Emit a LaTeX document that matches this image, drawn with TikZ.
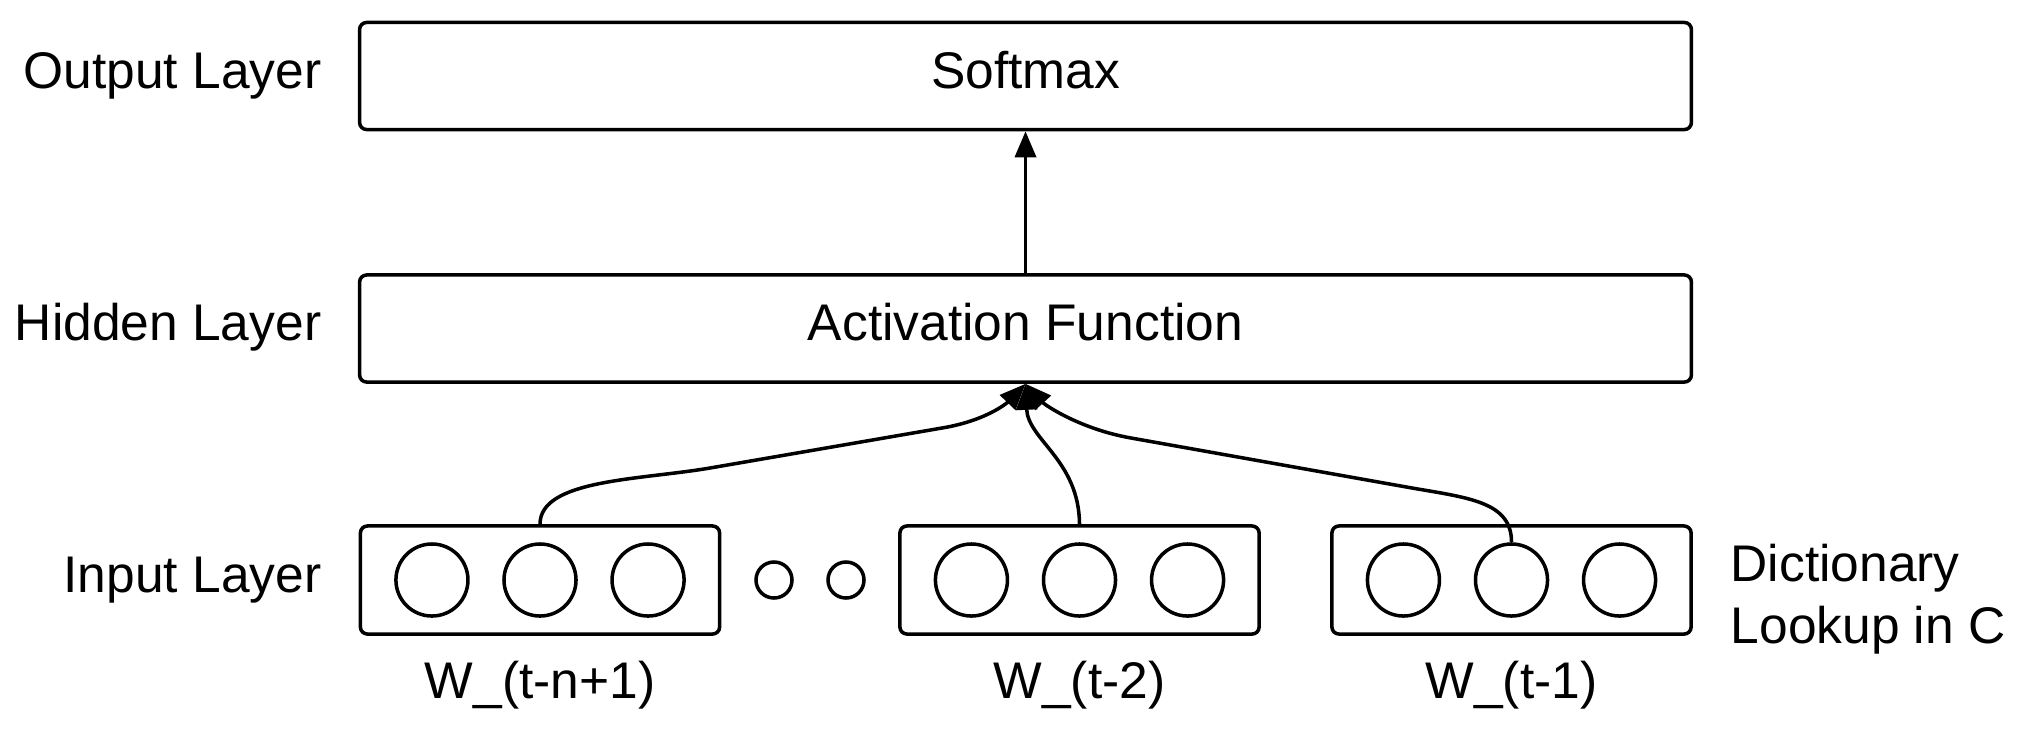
\documentclass[tikz,border=0pt]{standalone}
\usepackage{fontspec}
\setmainfont{Liberation Sans}
\usetikzlibrary{arrows.meta}

\begin{document}
\fontsize{14.65pt}{17.4pt}\selectfont
\begin{tikzpicture}[x=0.01cm, y=-0.01cm,
    layer/.style={rectangle, draw, line width=1pt, rounded corners=2pt, minimum width=13.31cm, minimum height=1.07cm, text height=0.37cm, text depth=0.13cm},
    lookup/.style={rectangle, draw, line width=1pt, rounded corners=2pt, minimum width=3.59cm, minimum height=1.08cm},
    unit/.style={circle, draw, line width=1pt, minimum size=0.72cm, inner sep=0pt},
    dot/.style={circle, draw, line width=1pt, minimum size=0.36cm, inner sep=0pt},
    tag/.style={inner sep=0pt},
    arrow/.style={-{Triangle[length=0.26cm, width=0.21cm]}, line width=1pt},
]
\useasboundingbox (0,0) rectangle (2022,730);
\node[layer] (out) at (1025.5,76) {Softmax};
\node[layer] (hid) at (1025.5,328.5) {Activation Function};
\node[lookup] (in1) at (540,580) {};
\node[lookup] (in2) at (1079.5,580) {};
\node[lookup] (in3) at (1511.5,580) {};
\foreach \b in {1,2,3} {
  \node[unit] (c\b1) at ([xshift=-1.08cm]in\b.center) {};
  \node[unit] (c\b2) at (in\b.center) {};
  \node[unit] (c\b3) at ([xshift=1.08cm]in\b.center) {};
}
\node[dot] (gap1) at (774,580) {};
\node[dot] (gap2) at (846,580) {};
% row labels
\node[tag, anchor=base east] (lout) at (322,88) {Output Layer};
\node[tag, anchor=base east] (lhid) at (322,340) {Hidden Layer};
\node[tag, anchor=base east] (lin) at (322,592) {Input Layer};
\node[tag, anchor=base west, align=left] (dict) at (1730,643) {Dictionary\\Lookup in C};
\node[tag, anchor=base] (w1) at (540,698) {W\_(t-n+1)};
\node[tag, anchor=base] (w2) at (1079.5,698) {W\_(t-2)};
\node[tag, anchor=base] (w3) at (1511.5,698) {W\_(t-1)};
% connections
\draw[arrow] (hid.north) -- (out.south);
\draw[arrow] (in1.north) .. controls +(0,-45) and (640,480) .. (710,468) -- (942,428) .. controls (990,420) and (1010,400) .. (hid.south);
\draw[arrow] (in2.north) .. controls (1079,460) and (1028,440) .. (hid.south);
\draw[arrow] (c32.north) .. controls +(0,-40) and (1470,498) .. (1412,488) -- (1131,438) .. controls (1080,429) and (1045,405) .. (hid.south);
\end{tikzpicture}
\end{document}
